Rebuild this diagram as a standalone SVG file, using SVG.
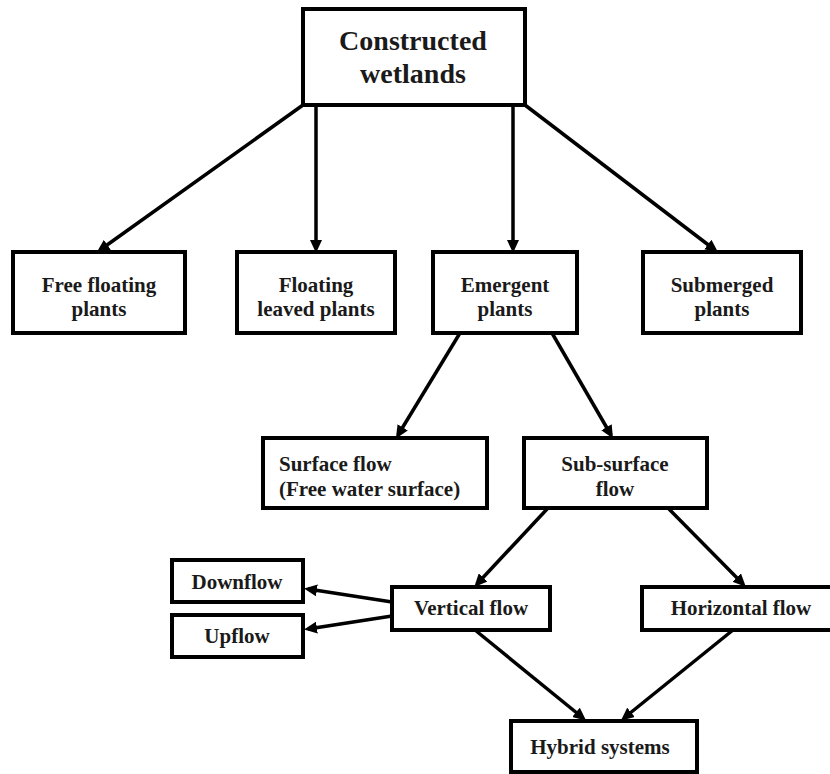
<svg xmlns="http://www.w3.org/2000/svg" width="830" height="774" viewBox="0 0 830 774">
<defs>
<style>
.box{fill:#fff;stroke:#000;stroke-width:4}
.t{font-family:"Liberation Serif","Times New Roman",serif;font-weight:bold;font-size:21px;fill:#1a1a1a;text-anchor:middle}
.title{font-size:28px}
.l{text-anchor:start}
.c{fill:none;stroke:#000;stroke-width:3.5;marker-end:url(#ah)}
</style>
<marker id="ah" markerUnits="userSpaceOnUse" markerWidth="14" markerHeight="12" viewBox="0 0 14 12" refX="9" refY="6" orient="auto">
<path d="M0,0 L13,6 L0,12 z" fill="#000"/>
</marker>
</defs>
<rect width="830" height="774" fill="#fff"/>
<g id="connectors">
<line class="c" x1="303" y1="105" x2="100" y2="250"/>
<line class="c" x1="316" y1="105" x2="316" y2="249"/>
<line class="c" x1="513" y1="105" x2="513" y2="249"/>
<line class="c" x1="525" y1="105" x2="715" y2="250"/>
<line class="c" x1="460" y1="333" x2="398" y2="435"/>
<line class="c" x1="552" y1="333" x2="611" y2="435"/>
<line class="c" x1="548" y1="508" x2="477" y2="584"/>
<line class="c" x1="668" y1="508" x2="743" y2="584"/>
<line class="c" x1="392" y1="602" x2="308" y2="589"/>
<line class="c" x1="392" y1="616" x2="308" y2="629"/>
<line class="c" x1="475" y1="630" x2="583" y2="718"/>
<line class="c" x1="733" y1="630" x2="624" y2="718"/>
</g>
<g id="constructed-wetlands">
<rect class="box" x="303" y="9" width="222" height="96"/>
<text class="t title" x="413" y="50">Constructed</text>
<text class="t title" x="413" y="83">wetlands</text>
</g>
<g id="free-floating">
<rect class="box" x="13" y="252" width="172" height="81"/>
<text class="t" x="99" y="292">Free floating</text>
<text class="t" x="99" y="316">plants</text>
</g>
<g id="floating-leaved">
<rect class="box" x="237" y="252" width="158" height="81"/>
<text class="t" x="316" y="292">Floating</text>
<text class="t" x="316" y="316">leaved plants</text>
</g>
<g id="emergent">
<rect class="box" x="433" y="252" width="144" height="81"/>
<text class="t" x="505" y="292">Emergent</text>
<text class="t" x="505" y="316">plants</text>
</g>
<g id="submerged">
<rect class="box" x="643" y="252" width="158" height="81"/>
<text class="t" x="722" y="292">Submerged</text>
<text class="t" x="722" y="316">plants</text>
</g>
<g id="surface-flow">
<rect class="box" x="263" y="438" width="224" height="70"/>
<text class="t l" x="279" y="471">Surface flow</text>
<text class="t l" x="279" y="496">(Free water surface)</text>
</g>
<g id="sub-surface-flow">
<rect class="box" x="524" y="438" width="183" height="70"/>
<text class="t" x="615" y="471">Sub-surface</text>
<text class="t" x="615" y="496">flow</text>
</g>
<g id="downflow">
<rect class="box" x="172" y="560" width="131" height="42"/>
<text class="t" x="237" y="589">Downflow</text>
</g>
<g id="upflow">
<rect class="box" x="172" y="615" width="131" height="42"/>
<text class="t" x="237" y="643">Upflow</text>
</g>
<g id="vertical-flow">
<rect class="box" x="392" y="587" width="158" height="43"/>
<text class="t" x="471" y="615">Vertical flow</text>
</g>
<g id="horizontal-flow">
<rect class="box" x="642" y="587" width="192" height="43"/>
<text class="t" x="741" y="615">Horizontal flow</text>
</g>
<g id="hybrid-systems">
<rect class="box" x="511" y="721" width="186" height="51"/>
<text class="t" x="600" y="754">Hybrid systems</text>
</g>
</svg>
